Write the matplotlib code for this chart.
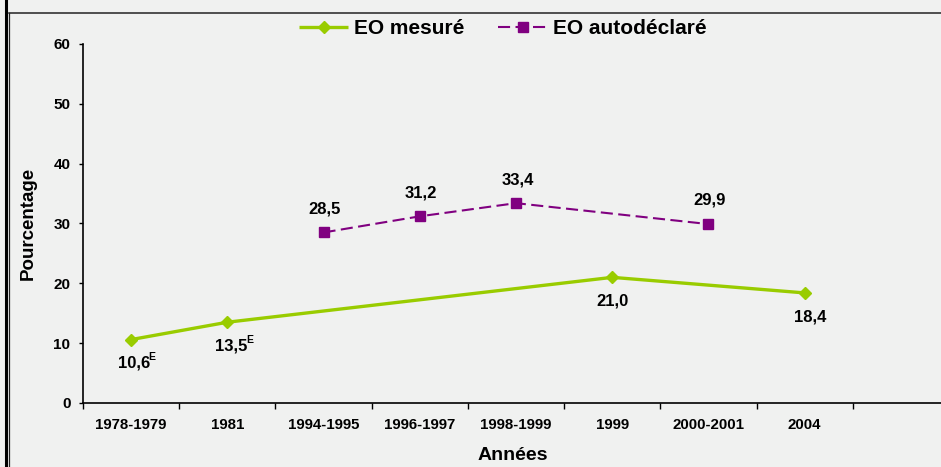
import numpy as np
import matplotlib
matplotlib.use("Agg")
import matplotlib.pyplot as plt
from matplotlib.lines import Line2D

plt.rcParams['font.family'] = ['Liberation Sans', 'DejaVu Sans']
plt.rcParams['font.weight'] = 'bold'

categories = ["1978-1979", "1981", "1994-1995", "1996-1997", "1998-1999",
              "1999", "2000-2001", "2004"]
eo_mesure = [10.6, 13.5, None, None, None, 21.0, None, 18.4]
eo_auto = [None, None, 28.5, 31.2, 33.4, None, 29.9, None]
mesure_labels = ["10,6", "13,5", None, None, None, "21,0", None, "18,4"]
mesure_flags = ["E", "E", None, None, None, "", None, ""]
auto_labels = [None, None, "28,5", "31,2", "33,4", None, "29,9", None]
series_names = ["EO mesuré", "EO autodéclaré"]
yticks = [0, 10, 20, 30, 40, 50, 60]

green = "#99CC00"
purple = "#800080"
bg = "#F0F1F0"

W, H = 941, 467
fig = plt.figure(figsize=(W / 100, H / 100), dpi=100, facecolor=bg)
ax = fig.add_axes([83 / W, (H - 403) / H, 866 / W, 359 / H])
ax.set_facecolor(bg)

xc = np.arange(len(categories)) + 0.5

def valid(vals):
    idx = [i for i, v in enumerate(vals) if v is not None]
    return xc[idx], np.array([vals[i] for i in idx], dtype=float), idx

mx, my, midx = valid(eo_mesure)
ax.plot(mx, my, color=green, lw=2.4, marker='D', ms=5.8, mec=green,
        mfc=green, label=series_names[0], zorder=3, solid_capstyle='butt')
ax_x, ax_y, aidx = valid(eo_auto)
ax.plot(ax_x, ax_y, color=purple, lw=1.5, ls=(0, (5.8, 2.6)), marker='s',
        ms=7.5, mec=purple, mfc=purple, label=series_names[1], zorder=3)

# labels for measured series (below)
dx_m = [2, 3, 0, 0, 0, 0, 0, 4]
for i in midx:
    t = ax.annotate(mesure_labels[i], (xc[i], eo_mesure[i]),
                    xytext=(dx_m[i], -17), textcoords='offset points',
                    ha='center', va='center', fontsize=12, fontweight='bold')
    if mesure_flags[i]:
        ax.annotate(mesure_flags[i], xy=(1, 1), xycoords=t,
                    xytext=(-1.2, 2.6), textcoords='offset points',
                    ha='left', va='top', fontsize=7.5, fontweight='bold')

for i in aidx:
    ax.annotate(auto_labels[i], (xc[i], eo_auto[i]),
                xytext=(1, 17), textcoords='offset points',
                ha='center', va='center', fontsize=12, fontweight='bold')

ax.set_xlim(0, len(categories) + 1)
ax.set_ylim(0, 60)
ax.set_yticks(yticks)
ax.set_yticklabels([str(v) for v in yticks], fontsize=11, fontweight='bold')
ax.tick_params(axis='y', length=3, width=1, pad=6, direction='out')

ax.set_xticks(np.arange(0, len(categories) + 2))
ax.set_xticklabels([])
ax.set_xticks(xc, minor=True)
ax.set_xticklabels(categories, minor=True, fontsize=10.8, fontweight='bold')
ax.tick_params(axis='x', which='major', length=4, width=1, direction='out')
ax.tick_params(axis='x', which='minor', length=0, pad=11)

for s in ['top', 'right']:
    ax.spines[s].set_visible(False)
for s in ['left', 'bottom']:
    ax.spines[s].set_linewidth(1.2)
    ax.spines[s].set_color('black')

ax.set_ylabel("Pourcentage", fontsize=13.5, fontweight='bold')
ax.yaxis.set_label_coords(-46 / 866, 0.5)
ax.set_xlabel("Années", fontsize=14, fontweight='bold')
ax.xaxis.set_label_coords((513 - 83) / 866, -(447 - 403) / 359)

leg = fig.legend(loc='center', bbox_to_anchor=(503 / W, 1 - 29 / H), ncol=2,
                 frameon=False, handlelength=2.35,
                 handletextpad=0.3, columnspacing=1.6,
                 prop={'weight': 'bold', 'size': 15})

# chart frame lines
fig.add_artist(Line2D([9 / W, 1], [1 - 12.5 / H, 1 - 12.5 / H],
                      color='#222222', lw=1.1, transform=fig.transFigure))
fig.add_artist(Line2D([5.5 / W, 5.5 / W], [0, 1], color='black', lw=2.2,
                      transform=fig.transFigure))
fig.add_artist(Line2D([9 / W, 9 / W], [0, 1 - 12.5 / H], color='#222222',
                      lw=0.9, transform=fig.transFigure))

fig.savefig("out.png", dpi=100, facecolor=bg)
